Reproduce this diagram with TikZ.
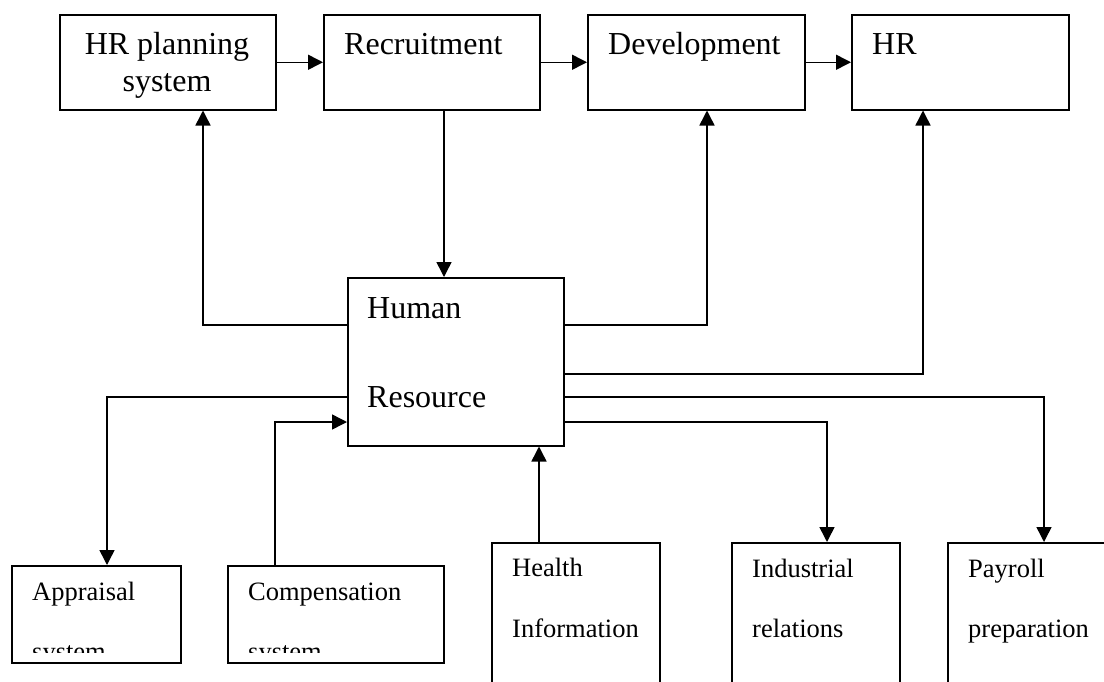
\documentclass[tikz,border=0pt]{standalone}
\usepackage{fontspec}
\setmainfont{Liberation Serif}
\usetikzlibrary{arrows.meta}
\begin{document}
\begin{tikzpicture}[x=1pt,y=-1pt,
  box/.style={draw, line width=1.5pt, rectangle, inner sep=0pt, anchor=north west},
  bigtxt/.style={font=\fontsize{32}{38}\selectfont, inner sep=0pt, anchor=base west},
  smalltxt/.style={font=\fontsize{26.5}{32}\selectfont, inner sep=0pt, anchor=base west},
  arr/.style={line width=1.5pt, -{Triangle[length=15pt,width=15pt]}}]
\useasboundingbox[fill=white] (0,0) rectangle (1104,681);
\clip (0,0) rectangle (1104,681);

% top row
\node[box, minimum width=216pt, minimum height=95pt] (hrp) at (59,14) {};
\node[box, minimum width=216pt, minimum height=95pt] (rec) at (323,14) {};
\node[box, minimum width=217pt, minimum height=95pt] (dev) at (587,14) {};
\node[box, minimum width=217pt, minimum height=95pt] (hrb) at (851,14) {};

% central box
\node[box, minimum width=216pt, minimum height=168pt] (hum) at (347,277) {};

% bottom row
\node[box, minimum width=169pt, minimum height=97pt] (app) at (11,565) {};
\node[box, minimum width=216pt, minimum height=97pt] (com) at (227,565) {};
\node[box, minimum width=168pt, minimum height=160pt] (hea) at (491,542) {};
\node[box, minimum width=168pt, minimum height=160pt] (ind) at (731,542) {};
\node[box, minimum width=180pt, minimum height=160pt] (pay) at (947,542) {};

% labels
\node[bigtxt, anchor=base] (thrp1) at (167,54) {HR planning};
\node[bigtxt, anchor=base] (thrp2) at (167,91) {system};
\node[bigtxt] (trec) at (344,54) {Recruitment};
\node[bigtxt] (tdev) at (608,54) {Development};
\node[bigtxt] (thrb) at (872,54) {HR};
\node[bigtxt] (thum1) at (367,318) {Human};
\node[bigtxt] (thum2) at (367,407) {Resource};

\node[smalltxt] (tapp1) at (32,600) {Appraisal};
\node[smalltxt] (tcom1) at (248,600) {Compensation};
\begin{scope}
  \clip (11,565) rectangle (443,652);
  \node[smalltxt] (tapp2) at (32,660) {system};
  \node[smalltxt] (tcom2) at (248,660) {system};
\end{scope}
\node[smalltxt] (thea1) at (512,576) {Health};
\node[smalltxt] (thea2) at (512,637) {Information};
\node[smalltxt] (tind1) at (752,577) {Industrial};
\node[smalltxt] (tind2) at (752,637) {relations};
\node[smalltxt] (tpay1) at (968,577) {Payroll};
\node[smalltxt] (tpay2) at (968,637) {preparation};

% connectors
\draw[arr] (hrp.east) -- (rec.west);
\draw[arr] (rec.east) -- (dev.west);
\draw[arr] (dev.east) -- (hrb.west);
\draw[arr] (444,0 |- rec.south) -- (444,0 |- hum.north);
\draw[arr] (hum.west |- 0,325) -| (203,0 |- hrp.south);
\draw[arr] (hum.east |- 0,325) -| (707,0 |- dev.south);
\draw[arr] (hum.east |- 0,374) -| (923,0 |- hrb.south);
\draw[arr] (hum.east |- 0,397) -| (1044,0 |- pay.north);
\draw[arr] (hum.east |- 0,422) -| (827,0 |- ind.north);
\draw[arr] (hum.west |- 0,397) -| (107,0 |- app.north);
\draw[arr] (275,0 |- com.north) |- (hum.west |- 0,422);
\draw[arr] (539,0 |- hea.north) -- (539,0 |- hum.south);
\end{tikzpicture}
\end{document}
